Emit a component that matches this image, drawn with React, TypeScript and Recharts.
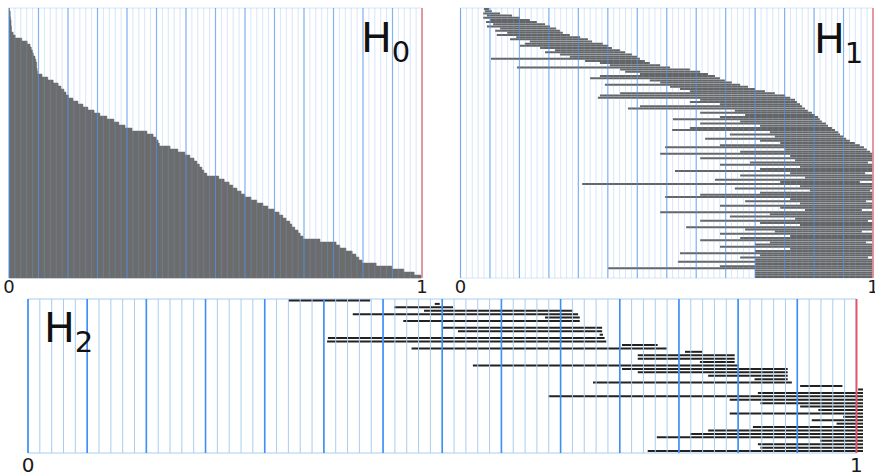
import React from 'react';
import { BarChart, Bar, XAxis, YAxis, ReferenceLine, ReferenceArea } from 'recharts';

// H0: every bar is born at 0, sorted from the shortest (top) to the longest
const h0Death = [
  0.001, 0.003, 0.003, 0.004, 0.005, 0.005, 0.006, 0.006, 0.010, 0.015,
  0.031, 0.044, 0.051, 0.054, 0.057, 0.059, 0.063, 0.065, 0.067, 0.067,
  0.068, 0.069, 0.080, 0.094, 0.107, 0.119, 0.126, 0.133, 0.138, 0.144,
  0.155, 0.167, 0.179, 0.191, 0.206, 0.220, 0.237, 0.254, 0.266, 0.281,
  0.298, 0.334, 0.349, 0.356, 0.361, 0.364, 0.390, 0.409, 0.426, 0.438,
  0.448, 0.455, 0.461, 0.467, 0.472, 0.479, 0.508, 0.521, 0.533, 0.542,
  0.552, 0.562, 0.571, 0.586, 0.600, 0.615, 0.627, 0.642, 0.654, 0.663,
  0.671, 0.680, 0.685, 0.692, 0.700, 0.705, 0.712, 0.753, 0.792, 0.801,
  0.816, 0.831, 0.840, 0.847, 0.855, 0.889, 0.927, 0.956, 0.981, 0.998,
];

const h1Birth = [
  0.057, 0.059, 0.055, 0.064, 0.055, 0.072, 0.062, 0.079, 0.064, 0.096,
  0.084, 0.113, 0.088, 0.135, 0.120, 0.168, 0.156, 0.144, 0.193, 0.229,
  0.205, 0.241, 0.265, 0.074, 0.302, 0.338, 0.362, 0.137, 0.387, 0.399,
  0.435, 0.338, 0.314, 0.459, 0.484, 0.350, 0.508, 0.532, 0.556, 0.387,
  0.338, 0.333, 0.581, 0.556, 0.629, 0.435, 0.406, 0.665, 0.581, 0.690,
  0.629, 0.515, 0.678, 0.581, 0.726, 0.556, 0.513, 0.750, 0.653, 0.762,
  0.593, 0.726, 0.775, 0.629, 0.496, 0.787, 0.678, 0.484, 0.799, 0.581,
  0.811, 0.702, 0.629, 0.823, 0.726, 0.520, 0.799, 0.678, 0.835, 0.617,
  0.775, 0.295, 0.823, 0.665, 0.847, 0.726, 0.581, 0.496, 0.799, 0.690,
  0.823, 0.629, 0.775, 0.835, 0.484, 0.750, 0.653, 0.811, 0.581, 0.726,
  0.823, 0.547, 0.690, 0.762, 0.629, 0.799, 0.678, 0.581, 0.750, 0.714,
  0.629, 0.799, 0.714, 0.532, 0.726, 0.678, 0.714, 0.527, 0.714, 0.629,
  0.358, 0.714, 0.714, 0.714, 0.714,
];

const h1Death = [
  0.069, 0.076, 0.096, 0.125, 0.144, 0.168, 0.185, 0.205, 0.217, 0.232,
  0.241, 0.248, 0.265, 0.290, 0.309, 0.319, 0.345, 0.358, 0.367, 0.387,
  0.399, 0.416, 0.428, 0.435, 0.447, 0.459, 0.484, 0.508, 0.556, 0.581,
  0.600, 0.617, 0.629, 0.641, 0.658, 0.678, 0.697, 0.714, 0.738, 0.762,
  0.787, 0.799, 0.811, 0.816, 0.823, 0.828, 0.835, 0.842, 0.852, 0.859,
  0.867, 0.871, 0.876, 0.886, 0.891, 0.901, 0.908, 0.916, 0.920, 0.928,
  0.935, 0.944, 0.956, 0.968, 0.978, 0.985, 0.993, 1, 1, 1,
  1, 0.988, 1, 1, 1, 1, 0.981, 1, 1, 1,
  0.968, 1, 1, 1, 0.993, 1, 1, 1, 1, 0.983,
  1, 1, 1, 0.973, 1, 1, 1, 1, 0.988, 1,
  1, 1, 1, 0.973, 1, 1, 1, 1, 0.983, 1,
  1, 1, 1, 1, 1, 0.988, 1, 1, 1, 1,
  1, 1, 1, 1, 1,
];

const h2Birth = [
  0.314, 0.491, 0.442, 0.478, 0.392, 0.624, 0.453, null, 0.501, 0.519,
  0.690, 0.362, 0.361, 0.717, 0.463, 0.793, 0.736, 0.736, 0.811, 0.537,
  0.717, 0.736, 0.821, 0.877, 0.682, 0.932, 1.002, 0.881, 0.628, 0.847,
  0.884, 0.932, 0.954, 0.847, 0.984, 0.946, 0.976, 0.875, 0.821, 0.799,
  0.759, 0.956, 0.881, 0.884, 0.748,
];

const h2Death = [
  0.413, 0.497, 0.513, 0.658, 0.664, 0.666, 0.666, null, 0.693, 0.693,
  0.694, 0.696, 0.698, 0.760, 0.771, 0.814, 0.853, 0.853, 0.853, 0.858,
  0.917, 0.917, 0.917, 0.917, 0.922, 0.983, 1.008, 1.008, 1.008, 1.008,
  1.008, 1.008, 1.008, 1.008, 1.008, 1.008, 1.008, 1.008, 1.008, 1.008,
  1.008, 1.008, 1.008, 1.008, 1.008,
];

const axisTicks = [0, 1];
const panelNames = ['0', '1', '2'];

const minorTicks = Array.from({ length: 71 }, (_, k) => k / 70);
const majorTicks = Array.from({ length: 15 }, (_, k) => k / 14);

const toRows = (birth: (number | null)[], death: (number | null)[]) =>
  birth.map((b, i) => ({
    row: i,
    bar: b == null || death[i] == null ? null : [b, death[i]],
  }));

const h0Rows = toRows(h0Death.map(() => 0), h0Death);
const h1Rows = toRows(h1Birth, h1Death);
const h2Rows = toRows(h2Birth, h2Death);

const FONT = 'DejaVu Sans, sans-serif';

function Barcode({
  rows,
  width,
  height,
  margin,
  maxX,
  gap,
  fill,
  stroke,
  minorColor,
  minorOpacity,
  majorColor,
  majorOpacity,
  majorWidth,
  redColor,
  frameColor,
  gridOnTop,
  tickSize,
  tickGap,
  axisHeight,
}: any) {
  const minor = minorTicks.map((t) => (
    <ReferenceLine key={'mi' + t} x={t} stroke={minorColor} strokeOpacity={minorOpacity} strokeWidth={1} />
  ));
  const major = majorTicks.map((t) => (
    <ReferenceLine key={'ma' + t} x={t} stroke={majorColor} strokeOpacity={majorOpacity} strokeWidth={majorWidth} />
  ));
  const bars = (
    <Bar
      dataKey="bar"
      fill={fill}
      stroke={stroke}
      strokeWidth={stroke ? 0.5 : 0}
      isAnimationActive={false}
    />
  );
  return (
    <BarChart
      width={width}
      height={height}
      data={rows}
      layout="vertical"
      margin={margin}
      barCategoryGap={gap}
    >
      <XAxis
        type="number"
        domain={[0, maxX]}
        ticks={axisTicks}
        allowDataOverflow
        interval={0}
        axisLine={false}
        tickLine={false}
        tickSize={0}
        tickMargin={tickGap}
        height={axisHeight}
        tick={{ fill: '#1a1a1a', fontSize: tickSize, fontFamily: FONT }}
      />
      <YAxis type="category" dataKey="row" hide width={0} />
      <ReferenceArea x1={0} x2={1} fill="none" stroke={frameColor} strokeWidth={1} />
      {minor}
      {!gridOnTop && major}
      {bars}
      {gridOnTop && major}
      <ReferenceLine x={1} stroke={redColor} strokeWidth={1.6} />
    </BarChart>
  );
}

export default function App() {
  return (
    <div
      style={{
        position: 'absolute',
        left: 0,
        top: 0,
        width: 875,
        height: 476,
        overflow: 'hidden',
        background: '#fff',
      }}
    >
      <div style={{ position: 'absolute', left: 0, top: 0 }}>
        <Barcode
          rows={h0Rows}
          width={440}
          height={300}
          margin={{ top: 8, right: 18, bottom: 2, left: 9 }}
          maxX={1}
          gap={0}
          fill="#6c6c6c"
          stroke="#6c6c6c"
          minorColor="#6aa6ee"
          minorOpacity={0.28}
          majorColor="#4a8ef0"
          majorOpacity={0.6}
          majorWidth={1.2}
          redColor="#f38c8c"
          frameColor="#d6e6f8"
          gridOnTop
          tickSize={18}
          tickGap={2}
          axisHeight={20}
        />
      </div>
      <div style={{ position: 'absolute', left: 440, top: 0 }}>
        <Barcode
          rows={h1Rows}
          width={435}
          height={300}
          margin={{ top: 8, right: 2, bottom: 2, left: 20.5 }}
          maxX={1}
          gap="5%"
          fill="#656565"
          minorColor="#6aa6ee"
          minorOpacity={0.28}
          majorColor="#4a8ef0"
          majorOpacity={0.6}
          majorWidth={1.2}
          redColor="#f38c8c"
          frameColor="#d6e6f8"
          gridOnTop
          tickSize={18}
          tickGap={2}
          axisHeight={20}
        />
      </div>
      <div style={{ position: 'absolute', left: 0, top: 290 }}>
        <Barcode
          rows={h2Rows}
          width={875}
          height={186}
          margin={{ top: 9, right: 11.9, bottom: 0, left: 28 }}
          maxX={1.008}
          gap="14%"
          fill="#222222"
          minorColor="#a9cdee"
          minorOpacity={1}
          majorColor="#3d8ef5"
          majorOpacity={1}
          majorWidth={1.6}
          redColor="#ff4d4d"
          frameColor="#a9cdee"
          gridOnTop={false}
          tickSize={20}
          tickGap={5}
          axisHeight={23}
        />
      </div>
      <svg
        width={875}
        height={476}
        style={{ position: 'absolute', left: 0, top: 0, pointerEvents: 'none' }}
      >
        <text x={361} y={52} fontSize={41} fontFamily={FONT} fill="#111">
          H<tspan fontSize={29} dy={10}>{panelNames[0]}</tspan>
        </text>
        <text x={814} y={53} fontSize={41} fontFamily={FONT} fill="#111">
          H<tspan fontSize={29} dy={10}>{panelNames[1]}</tspan>
        </text>
        <text x={44} y={342} fontSize={41} fontFamily={FONT} fill="#111">
          H<tspan fontSize={29} dy={10}>{panelNames[2]}</tspan>
        </text>
      </svg>
    </div>
  );
}
